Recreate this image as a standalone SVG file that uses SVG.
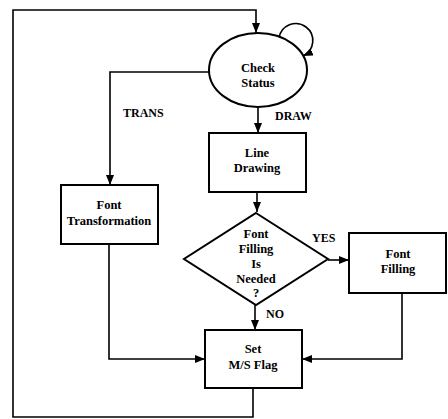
<svg xmlns="http://www.w3.org/2000/svg" width="448" height="419" viewBox="0 0 448 419">
<style>
.n{fill:#fff;stroke:#000;stroke-width:2}
.t{font-family:'Liberation Serif','DejaVu Serif',serif;font-weight:bold;font-size:12.5px;text-anchor:middle;fill:#000}
.l{font-family:'Liberation Serif','DejaVu Serif',serif;font-weight:bold;font-size:12px;fill:#000}
.c{fill:none;stroke:#000;stroke-width:1.6}
</style>
<defs>
<marker id="a" viewBox="0 0 10 8" refX="10" refY="4" markerWidth="10" markerHeight="8" markerUnits="userSpaceOnUse" orient="auto">
<path d="M0 0L10 4L0 8z" fill="#000"/>
</marker>
</defs>
<rect width="448" height="419" fill="#fff"/>
<g id="connectors">
<path class="c" d="M253 388V417H13V10H256V33" marker-end="url(#a)"/>
<path class="c" d="M279 38A17 17 0 1 1 303 56" marker-end="url(#a)"/>
<path class="c" d="M209 72H110V185" marker-end="url(#a)"/>
<path class="c" d="M258 107V133" marker-end="url(#a)"/>
<path class="c" d="M257 192V212" marker-end="url(#a)"/>
<path class="c" d="M328 260H349" marker-end="url(#a)"/>
<path class="c" d="M255 305V330" marker-end="url(#a)"/>
<path class="c" d="M109 244V359H205" marker-end="url(#a)"/>
<path class="c" d="M402 293V359H302" marker-end="url(#a)"/>
<text class="l" x="123" y="117">TRANS</text>
<text class="l" x="275" y="120">DRAW</text>
<text class="l" x="312" y="242">YES</text>
<text class="l" x="266" y="318">NO</text>
</g>
<g id="check-status">
<ellipse class="n" cx="258" cy="70" rx="49" ry="37"/>
<text class="t" x="258" y="72">Check</text>
<text class="t" x="258" y="87">Status</text>
</g>
<g id="line-drawing">
<rect class="n" x="209" y="133" width="97" height="59"/>
<text class="t" x="257" y="157">Line</text>
<text class="t" x="257" y="172">Drawing</text>
</g>
<g id="font-transformation">
<rect class="n" x="61" y="185" width="97" height="59"/>
<text class="t" x="109" y="209">Font</text>
<text class="t" x="109" y="225">Transformation</text>
</g>
<g id="font-filling-needed">
<path class="n" d="M256 213L328 259L256 305L184 259Z"/>
<text class="t" x="256" y="238">Font</text>
<text class="t" x="256" y="253">Filling</text>
<text class="t" x="256" y="268">Is</text>
<text class="t" x="256" y="283">Needed</text>
<text class="t" x="256" y="297" font-size="8">?</text>
</g>
<g id="font-filling">
<rect class="n" x="349" y="233" width="97" height="60"/>
<text class="t" x="398" y="258">Font</text>
<text class="t" x="398" y="273">Filling</text>
</g>
<g id="set-flag">
<rect class="n" x="205" y="330" width="97" height="58"/>
<text class="t" x="253" y="353">Set</text>
<text class="t" x="253" y="369">M/S Flag</text>
</g>
</svg>
